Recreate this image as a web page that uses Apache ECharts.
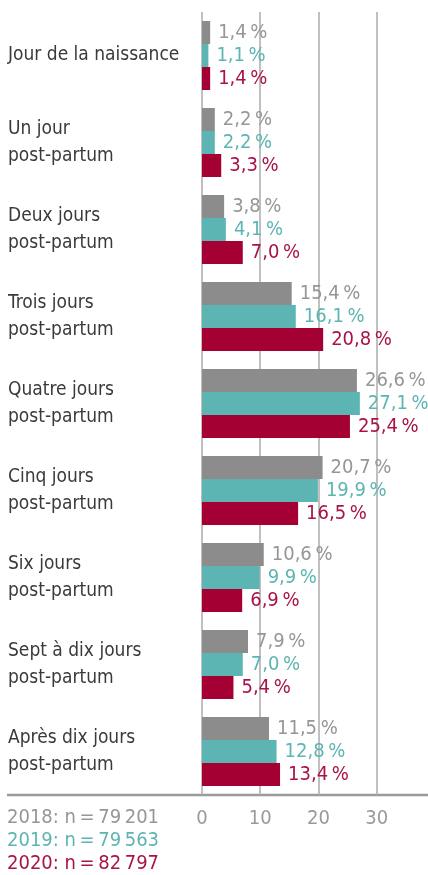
<!DOCTYPE html>
<html>
<head>
<meta charset="utf-8">
<style>
  html, body { margin: 0; padding: 0; background: #fff; }
  #chart { width: 428px; height: 875px; }
</style>
<script src="https://cdn.jsdelivr.net/npm/echarts@6/dist/echarts.min.js"></script>
</head>
<body>
<div id="chart"></div>
<script>
const categories = [
  "Jour de la naissance",
  "Un jour\npost-partum",
  "Deux jours\npost-partum",
  "Trois jours\npost-partum",
  "Quatre jours\npost-partum",
  "Cinq jours\npost-partum",
  "Six jours\npost-partum",
  "Sept à dix jours\npost-partum",
  "Après dix jours\npost-partum",
];
const values2018 = [1.4, 2.2, 3.8, 15.4, 26.6, 20.7, 10.6, 7.9, 11.5];
const values2019 = [1.1, 2.2, 4.1, 16.1, 27.1, 19.9, 9.9, 7.0, 12.8];
const values2020 = [1.4, 3.3, 7.0, 20.8, 25.4, 16.5, 6.9, 5.4, 13.4];
const seriesNames = ["2018", "2019", "2020"];
const legendLines = ["2018: n\u2009=\u200979\u2009201", "2019: n\u2009=\u200979\u2009563", "2020: n\u2009=\u200982\u2009797"];
const xTicks = [0, 10, 20, 30];

const FONT = "'Liberation Sans Narrow', 'DejaVu Sans Condensed', sans-serif";
const colors = ["#8c8c8c", "#5cb5b2", "#a50034"];
const labelColors = ["#969696", "#5cb5b2", "#a8134a"];

const chart = echarts.init(document.getElementById("chart"));

function fmt(v) {
  return v.toFixed(1).replace(".", ",") + "\u2009%";
}

function makeSeries(name, data, i) {
  return {
    name: name,
    type: "bar",
    data: data,
    barWidth: 23,
    barGap: "0%",
    itemStyle: { color: colors[i] },
    label: {
      show: true,
      position: "right",
      distance: 8,
      color: labelColors[i],
      fontFamily: FONT,
      fontSize: 20,
      formatter: (p) => fmt(p.value),
    },
  };
}

chart.setOption({
  animation: false,
  textStyle: { fontFamily: FONT },
  grid: { left: 202, right: 0, top: 12, bottom: 80, containLabel: false },
  xAxis: {
    type: "value",
    min: 0,
    max: 38.8,
    interval: 10,
    axisLine: { show: false },
    axisTick: { show: false },
    splitLine: {
      show: true,
      showMaxLine: false,
      lineStyle: { color: "#ababab", width: 1.5 },
    },
    axisLabel: {
      color: "#9a9a9a",
      fontSize: 20,
      fontFamily: FONT,
      margin: 14,
      showMaxLabel: false,
      formatter: (v) => (xTicks.indexOf(v) >= 0 ? String(v) : ""),
    },
  },
  yAxis: {
    type: "category",
    data: categories,
    inverse: true,
    axisLine: { show: false },
    axisTick: { show: false },
    axisLabel: {
      align: "left",
      margin: 194,
      color: "#3a3a3a",
      fontSize: 19,
      lineHeight: 27,
      fontFamily: FONT,
    },
  },
  series: [
    makeSeries(seriesNames[0], values2018, 0),
    makeSeries(seriesNames[1], values2019, 1),
    makeSeries(seriesNames[2], values2020, 2),
  ],
  graphic: [
    {
      type: "line",
      shape: { x1: 7, y1: 795, x2: 428, y2: 795 },
      style: { stroke: "#9a9a9a", lineWidth: 2.5 },
    },
  ].concat(
    legendLines.map((t, i) => ({
      type: "text",
      left: 7,
      top: 808 + i * 23,
      style: {
        text: t,
        fill: labelColors[i],
        fontSize: 20,
        fontFamily: FONT,
      },
    }))
  ),
});
</script>
</body>
</html>
